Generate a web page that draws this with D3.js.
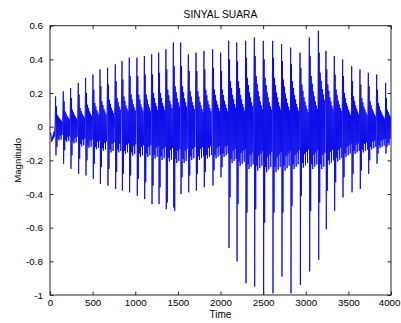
<!DOCTYPE html>
<html><head><meta charset="utf-8">
<script src="https://cdn.jsdelivr.net/npm/d3@7/dist/d3.min.js"></script>
<style>
html,body{margin:0;padding:0;background:#fff;}
svg{display:block;}
text{font-family:"Liberation Sans",Arial,Helvetica,sans-serif;fill:#000;}
</style>
</head><body>
<svg id="chart" width="401" height="323"></svg>
<script>
// ---- data ----
const titleText = "SINYAL SUARA";
const xLabel = "Time";
const yLabel = "Magnitudo";
const xTicks = [0, 500, 1000, 1500, 2000, 2500, 3000, 3500, 4000];
const xTickLabels = ["0","500","1000","1500","2000","2500","3000","3500","4000"];
const yTicks = [-1, -0.8, -0.6, -0.4, -0.2, 0, 0.2, 0.4, 0.6];
const yTickLabels = ["-1","-0.8","-0.6","-0.4","-0.2","0","0.2","0.4","0.6"];

// samples before the first glottal pulse
const leadTime  = [0, 5, 10, 15, 20, 25, 30, 35, 40, 45, 50, 55, 60];
const leadValue = [-0.03,-0.05,-0.04,-0.07,-0.09,-0.06,-0.08,-0.05,-0.07,-0.03,-0.06,-0.02,0.02];

// one entry per pitch period (sample index of the main spike)
const pulseTime = [66,156,242,332,418,504,587,676,766,845,930,1020,1107,1193,1275,1360,1447,1533,1623,1713,1806,1908,2002,2096,2190,2295,2397,2502,2612,2717,2823,2933,3042,3148,3237,3335,3433,3539,3636,3734,3832,3937];
const pulseMax  = [0.18,0.21,0.23,0.26,0.29,0.31,0.34,0.35,0.37,0.39,0.41,0.41,0.42,0.43,0.44,0.46,0.50,0.50,0.43,0.44,0.45,0.46,0.44,0.51,0.50,0.51,0.53,0.51,0.51,0.49,0.47,0.44,0.53,0.57,0.45,0.42,0.40,0.36,0.34,0.32,0.31,0.26];
const pulseMin  = [-0.17,-0.22,-0.25,-0.28,-0.29,-0.31,-0.34,-0.35,-0.37,-0.38,-0.39,-0.41,-0.43,-0.46,-0.46,-0.49,-0.48,-0.40,-0.39,-0.38,-0.36,-0.35,-0.30,-0.72,-0.80,-0.93,-0.95,-1.0,-0.99,-0.89,-0.99,-0.94,-0.86,-0.79,-0.61,-0.50,-0.42,-0.39,-0.37,-0.28,-0.22,-0.16];
const echoMax   = [0.12,0.15,0.17,0.19,0.2,0.22,0.24,0.25,0.27,0.28,0.3,0.3,0.31,0.31,0.32,0.34,0.36,0.36,0.33,0.33,0.34,0.35,0.33,0.4,0.39,0.41,0.42,0.4,0.41,0.39,0.37,0.35,0.42,0.44,0.34,0.31,0.3,0.27,0.25,0.24,0.22,0.17];
const echoMin   = [-0.12,-0.14,-0.17,-0.19,-0.2,-0.22,-0.24,-0.25,-0.27,-0.28,-0.29,-0.31,-0.33,-0.35,-0.36,-0.45,-0.5,-0.3,-0.29,-0.28,-0.27,-0.26,-0.24,-0.42,-0.46,-0.51,-0.49,-0.57,-0.51,-0.51,-0.47,-0.41,-0.5,-0.45,-0.38,-0.33,-0.3,-0.28,-0.26,-0.2,-0.16,-0.12];
// extent of the ringing band after each spike
const ringHi    = [0.07,0.09,0.1,0.11,0.13,0.14,0.15,0.16,0.17,0.18,0.19,0.19,0.19,0.2,0.2,0.22,0.24,0.24,0.21,0.21,0.22,0.22,0.22,0.27,0.27,0.29,0.3,0.29,0.29,0.28,0.27,0.25,0.3,0.32,0.25,0.22,0.2,0.18,0.17,0.15,0.14,0.1];
const ringLo    = [-0.09,-0.1,-0.11,-0.13,-0.14,-0.15,-0.16,-0.17,-0.17,-0.18,-0.19,-0.2,-0.2,-0.21,-0.22,-0.23,-0.24,-0.24,-0.22,-0.22,-0.21,-0.21,-0.2,-0.24,-0.26,-0.28,-0.29,-0.3,-0.3,-0.29,-0.28,-0.27,-0.28,-0.28,-0.25,-0.23,-0.2,-0.18,-0.17,-0.15,-0.14,-0.12];
// shape of the ringing inside one period (alternating upper / lower swing), read from one period
const ringShape = [1.0,0.8,0.85,0.9,0.7,0.6,0.6,0.85,0.5,0.55,0.42,0.8,0.35,0.5,0.3,0.7,0.25,0.45,0.2,0.6,0.18,0.4,0.15,0.5];

// ---- layout ----
const W = 401, H = 323;
const m = {left: 50, right: 10, top: 25.7, bottom: 28};
const svg = d3.select("#chart");
const x = d3.scaleLinear().domain([0, 4000]).range([m.left, W - m.right]);
const y = d3.scaleLinear().domain([-1, 0.6]).range([H - m.bottom, m.top]);

// build the waveform vertices from the arrays
const pts = [];
leadTime.forEach((t, i) => pts.push([t, leadValue[i]]));
pulseTime.forEach((t0, i) => {
  const t1 = i < pulseTime.length - 1 ? pulseTime[i + 1] : 4000;
  pts.push([t0, pulseMax[i]]);
  pts.push([t0 + 4, pulseMin[i]]);
  pts.push([t0 + 10, echoMax[i]]);
  pts.push([t0 + 16, echoMin[i]]);
  let k = 0;
  for (let t = t0 + 22; t < t1 - 4 && k < ringShape.length; t += 6, k++) {
    pts.push([t, (k % 2 === 0 ? ringHi[i] : ringLo[i]) * ringShape[k]]);
  }
});

svg.append("defs").append("clipPath").attr("id", "clip")
  .append("rect").attr("x", m.left).attr("y", m.top)
  .attr("width", W - m.left - m.right).attr("height", H - m.top - m.bottom);

svg.append("path")
  .datum(pts)
  .attr("clip-path", "url(#clip)")
  .attr("fill", "none")
  .attr("stroke", "#0000e8")
  .attr("stroke-width", 0.85)
  .attr("stroke-linejoin", "round")
  .attr("d", d3.line().x(d => x(d[0])).y(d => y(d[1])));

// ---- axes (MATLAB style: box with inward ticks on all sides) ----
const axisColor = "#262626";
const tickLen = 3.5;
const gx = svg.append("g").attr("transform", `translate(0,${y(-1)})`)
  .call(d3.axisBottom(x).tickValues(xTicks).tickFormat((d, i) => xTickLabels[i]).tickSizeInner(-tickLen).tickSizeOuter(0).tickPadding(6));
const gxTop = svg.append("g").attr("transform", `translate(0,${y(0.6)})`)
  .call(d3.axisTop(x).tickValues(xTicks).tickFormat("").tickSizeInner(-tickLen).tickSizeOuter(0));
const gy = svg.append("g").attr("transform", `translate(${x(0)},0)`)
  .call(d3.axisLeft(y).tickValues(yTicks).tickFormat((d, i) => yTickLabels[i]).tickSizeInner(-tickLen).tickSizeOuter(0).tickPadding(7));
const gyRight = svg.append("g").attr("transform", `translate(${x(4000)},0)`)
  .call(d3.axisRight(y).tickValues(yTicks).tickFormat("").tickSizeInner(-tickLen).tickSizeOuter(0));

[gx, gxTop, gy, gyRight].forEach(g => {
  g.select(".domain").remove();
  g.selectAll("line").attr("stroke", axisColor).attr("stroke-width", 1);
  g.selectAll("text").attr("font-size", "9.8px").attr("font-family", '"Liberation Sans",Arial,sans-serif').attr("fill", "#000");
});
gx.selectAll("text").attr("dy", "0.71em").attr("y", 4);
// last label sits against the right edge of the picture, as in the reference
gx.selectAll(".tick").filter(d => d === 4000).select("text")
  .attr("text-anchor", "end").attr("x", W - 1 - x(4000));

svg.append("rect")
  .attr("x", x(0)).attr("y", y(0.6))
  .attr("width", x(4000) - x(0)).attr("height", y(-1) - y(0.6))
  .attr("fill", "none").attr("stroke", axisColor).attr("stroke-width", 1);

// ---- titles ----
svg.append("text").attr("x", (x(0) + x(4000)) / 2).attr("y", 18.3)
  .attr("text-anchor", "middle").attr("font-size", "10.3px").text(titleText);
svg.append("text").attr("x", (x(0) + x(4000)) / 2).attr("y", 318)
  .attr("text-anchor", "middle").attr("font-size", "10px").text(xLabel);
svg.append("text").attr("transform", `translate(20.5,${(y(-1) + y(0.6)) / 2}) rotate(-90)`)
  .attr("text-anchor", "middle").attr("font-size", "9.6px").text(yLabel);
</script>
</body></html>
